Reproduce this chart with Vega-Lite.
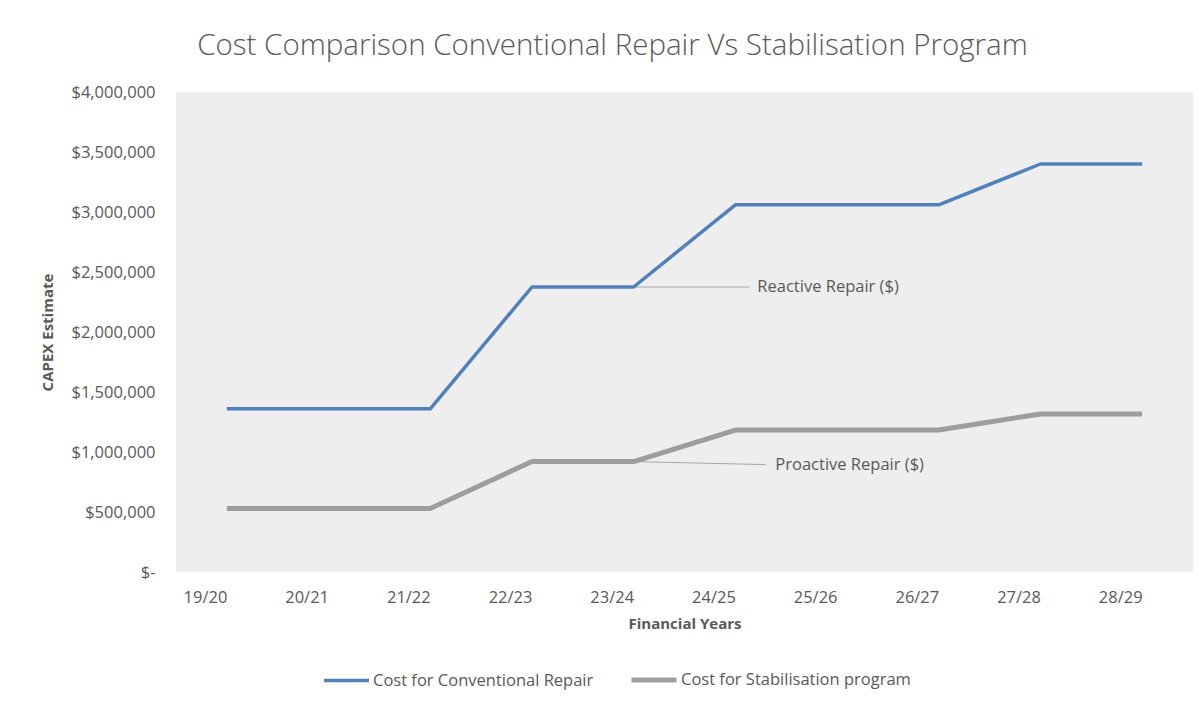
{
  "$schema": "https://vega.github.io/schema/vega-lite/v6.json",
  "autosize": {"type": "none"},
  "width": 1017,
  "height": 480,
  "padding": {"left": 176, "top": 92, "right": 11, "bottom": 134},
  "background": "white",
  "title": {
    "text": "Cost Comparison Conventional Repair Vs Stabilisation Program",
    "font": "Open Sans",
    "fontSize": 29.5,
    "fontWeight": 300,
    "color": "#595959",
    "anchor": "middle",
    "dx": -72,
    "offset": 0,
    "baseline": "alphabetic"
  },
  "config": {
    "view": {"fill": "#eeeeee", "stroke": null},
    "axis": {
      "labelFont": "Open Sans",
      "labelFontSize": 16.5,
      "labelColor": "#595959",
      "titleFont": "Open Sans",
      "titleFontSize": 15,
      "titleFontWeight": "bold",
      "titleColor": "#595959",
      "grid": false,
      "ticks": false,
      "domain": false
    },
    "legend": {
      "labelFont": "Open Sans",
      "labelFontSize": 16.5,
      "labelColor": "#595959",
      "labelLimit": 0
    }
  },
  "datasets": {
    "series": [
      {"year": "19/20", "series": "Cost for Conventional Repair", "value": 1360000},
      {"year": "20/21", "series": "Cost for Conventional Repair", "value": 1360000},
      {"year": "21/22", "series": "Cost for Conventional Repair", "value": 1360000},
      {"year": "22/23", "series": "Cost for Conventional Repair", "value": 2375000},
      {"year": "23/24", "series": "Cost for Conventional Repair", "value": 2375000},
      {"year": "24/25", "series": "Cost for Conventional Repair", "value": 3060000},
      {"year": "25/26", "series": "Cost for Conventional Repair", "value": 3060000},
      {"year": "26/27", "series": "Cost for Conventional Repair", "value": 3060000},
      {"year": "27/28", "series": "Cost for Conventional Repair", "value": 3400000},
      {"year": "28/29", "series": "Cost for Conventional Repair", "value": 3400000},
      {"year": "19/20", "series": "Cost for Stabilisation program", "value": 530000},
      {"year": "20/21", "series": "Cost for Stabilisation program", "value": 530000},
      {"year": "21/22", "series": "Cost for Stabilisation program", "value": 530000},
      {"year": "22/23", "series": "Cost for Stabilisation program", "value": 920000},
      {"year": "23/24", "series": "Cost for Stabilisation program", "value": 920000},
      {"year": "24/25", "series": "Cost for Stabilisation program", "value": 1183000},
      {"year": "25/26", "series": "Cost for Stabilisation program", "value": 1183000},
      {"year": "26/27", "series": "Cost for Stabilisation program", "value": 1183000},
      {"year": "27/28", "series": "Cost for Stabilisation program", "value": 1317000},
      {"year": "28/29", "series": "Cost for Stabilisation program", "value": 1317000}
    ],
    "notes": [
      {"label": "Reactive Repair ($)", "from": "23/24", "to": "24/25", "y": 2375000, "y2": 2375000},
      {"label": "Proactive Repair ($)", "from": "23/24", "to": "24/25", "y": 920000, "y2": 895000}
    ]
  },
  "layer": [
    {
      "data": {"name": "notes"},
      "transform": [{"filter": "datum.label == 'Reactive Repair ($)'"}],
      "mark": {"type": "rule", "color": "#a6a6a6", "strokeWidth": 1, "x2Offset": 14},
      "encoding": {
        "x": {"field": "from", "type": "ordinal"},
        "x2": {"field": "to"},
        "y": {"field": "y", "type": "quantitative"},
        "y2": {"field": "y2"}
      }
    },
    {
      "data": {"name": "notes"},
      "transform": [{"filter": "datum.label == 'Proactive Repair ($)'"}],
      "mark": {"type": "rule", "color": "#a6a6a6", "strokeWidth": 1, "x2Offset": 30},
      "encoding": {
        "x": {"field": "from", "type": "ordinal"},
        "x2": {"field": "to"},
        "y": {"field": "y", "type": "quantitative"},
        "y2": {"field": "y2"}
      }
    },
    {
      "data": {"name": "notes"},
      "transform": [{"filter": "datum.label == 'Reactive Repair ($)'"}],
      "mark": {"type": "text", "align": "left", "baseline": "middle", "dx": 22, "font": "Open Sans", "fontSize": 16.5, "color": "#595959"},
      "encoding": {
        "x": {"field": "to", "type": "ordinal"},
        "y": {"field": "y2", "type": "quantitative"},
        "text": {"field": "label"}
      }
    },
    {
      "data": {"name": "notes"},
      "transform": [{"filter": "datum.label == 'Proactive Repair ($)'"}],
      "mark": {"type": "text", "align": "left", "baseline": "middle", "dx": 40, "font": "Open Sans", "fontSize": 16.5, "color": "#595959"},
      "encoding": {
        "x": {"field": "to", "type": "ordinal"},
        "y": {"field": "y2", "type": "quantitative"},
        "text": {"field": "label"}
      }
    },
    {
      "data": {"name": "series"},
      "mark": {"type": "line", "strokeCap": "butt", "strokeJoin": "round"},
      "encoding": {
        "x": {
          "field": "year",
          "type": "ordinal",
          "scale": {"type": "point", "padding": 0.5},
          "axis": {"title": "Financial Years", "labelAngle": 0, "labelPadding": 25, "titlePadding": 11}
        },
        "y": {
          "field": "value",
          "type": "quantitative",
          "scale": {"domain": [0, 4000000]},
          "axis": {
            "title": "CAPEX Estimate",
            "values": [0, 500000, 1000000, 1500000, 2000000, 2500000, 3000000, 3500000, 4000000],
            "labelExpr": "datum.value == 0 ? '$-\u00a0' : format(datum.value, '$,.0f')",
            "labelPadding": 21,
            "titlePadding": 15
          }
        },
        "color": {
          "field": "series",
          "type": "nominal",
          "scale": {"domain": ["Cost for Conventional Repair", "Cost for Stabilisation program"], "range": ["#5181bb", "#9d9d9d"]},
          "legend": {
            "title": null,
            "orient": "none",
            "legendX": 146,
            "legendY": 563,
            "direction": "horizontal",
            "symbolType": "stroke",
            "symbolSize": 2025,
            "symbolStrokeWidth": 4,
            "labelOffset": 2,
            "columnPadding": 27
          }
        },
        "strokeWidth": {
          "field": "series",
          "type": "nominal",
          "scale": {"domain": ["Cost for Conventional Repair", "Cost for Stabilisation program"], "range": [3.5, 5]},
          "legend": null
        }
      }
    }
  ]
}
